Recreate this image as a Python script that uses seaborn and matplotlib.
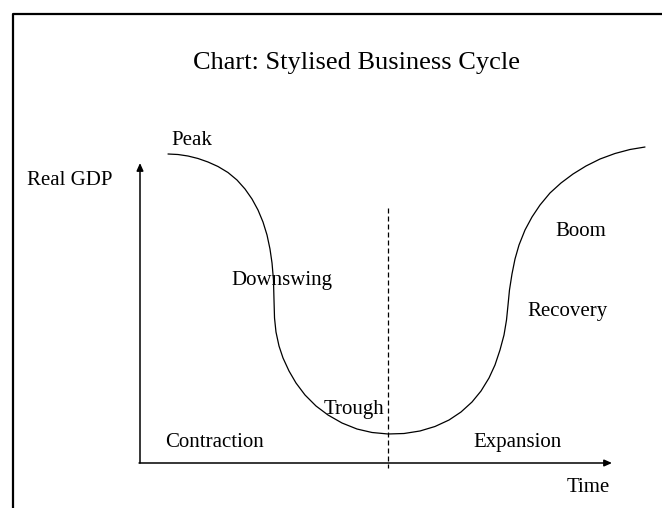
import matplotlib
matplotlib.use("Agg")
import matplotlib.pyplot as plt
from matplotlib.lines import Line2D
import pandas as pd
import seaborn as sns

# stylised cycle, time 0-100 along the axis, real GDP 0-100 up the axis
time = [5.93, 8.05, 10.17, 12.29, 14.41, 16.53, 18.64, 20.55, 22.25, 23.73,
        25.0, 26.06, 26.91, 27.54, 27.97, 28.28, 28.39, 28.5, 28.81, 29.45,
        30.3, 31.57, 33.05, 34.96, 37.29, 39.83, 42.8, 45.97, 49.15, 52.54,
        55.93, 59.32, 62.5, 65.47, 68.01, 70.34, 72.25, 73.94, 75.21, 76.27,
        77.12, 77.65, 77.97, 78.28, 78.81, 79.45, 80.3, 81.57, 83.05, 84.75,
        86.86, 89.19, 91.74, 94.49, 97.46, 100.64, 103.81, 106.99]
real_gdp = [103.0, 102.83, 102.33, 101.5, 100.33, 98.83, 96.83, 94.33, 91.33, 88.0,
            84.33, 80.33, 76.0, 71.33, 66.67, 61.0, 54.33, 48.33, 43.67, 39.0,
            35.0, 30.67, 26.67, 22.67, 19.0, 16.0, 13.33, 11.33, 10.17, 9.67,
            9.83, 10.67, 12.17, 14.33, 17.0, 20.33, 24.0, 28.33, 32.67, 37.67,
            42.67, 47.67, 52.67, 57.67, 63.0, 68.0, 72.67, 77.67, 82.0, 86.0,
            90.0, 93.33, 96.33, 99.0, 101.33, 103.17, 104.5, 105.33]

trough_time = 52.5
divider_gdp = [85.0, -1.7]

phase_labels = ["Peak", "Downswing", "Trough", "Contraction", "Expansion", "Boom", "Recovery"]
phase_x = [6.7, 19.4, 38.8, 5.3, 89.3, 87.9, 82.1]
phase_y = [106.0, 59.3, 16.3, 5.4, 5.4, 75.7, 49.0]
phase_ha = ["left", "left", "left", "left", "right", "left", "left"]

title = "Chart: Stylised Business Cycle"
y_label = "Real GDP"
x_label = "Time"

sns.set_style("white")
plt.rcParams["font.family"] = ["Liberation Serif", "DejaVu Serif"]
plt.rcParams["text.color"] = "black"

fig = plt.figure(figsize=(6.62, 5.08), dpi=100)
ax = fig.add_axes([140 / 662, 45 / 508, 472 / 662, 300 / 508])
ax.set_xlim(0, 100)
ax.set_ylim(0, 100)
ax.axis("off")

# outer frame (top and left edges visible)
fig.add_artist(Line2D([12.5 / 662, 12.5 / 662, 1.05], [-0.05, 1 - 13.5 / 508, 1 - 13.5 / 508],
                      transform=fig.transFigure, color="black", lw=1.6))

# axes with arrows
arrow = dict(arrowstyle="-|>,head_length=0.45,head_width=0.2", color="black", lw=1.1,
             shrinkA=0, shrinkB=0)
ax.annotate("", xy=(0, 100), xytext=(0, 0), arrowprops=arrow, annotation_clip=False)
ax.annotate("", xy=(100, 0), xytext=(-0.2, 0), arrowprops=arrow, annotation_clip=False)

df = pd.DataFrame({"time": time, "gdp": real_gdp})
sns.lineplot(data=df, x="time", y="gdp", sort=False, estimator=None, color="black",
             lw=0.9, ax=ax, clip_on=False)

ax.plot([trough_time, trough_time], divider_gdp, color="black", lw=0.9,
        linestyle=(0, (4, 2.4)), clip_on=False)

for lab, x, y, ha in zip(phase_labels, phase_x, phase_y, phase_ha):
    ax.text(x, y, lab, ha=ha, va="baseline", fontsize=15, color="black", clip_on=False)

ax.text(-23.9, 92.7, y_label, ha="left", va="baseline", fontsize=15, color="black")
ax.text(99.6, -9.6, x_label, ha="right", va="baseline", fontsize=15, color="black")

fig.text(356.7 / 662, 1 - 68.5 / 508, title, ha="center", va="baseline", fontsize=19,
         color="black")

fig.savefig("out.png", dpi=100)
plt.close(fig)
